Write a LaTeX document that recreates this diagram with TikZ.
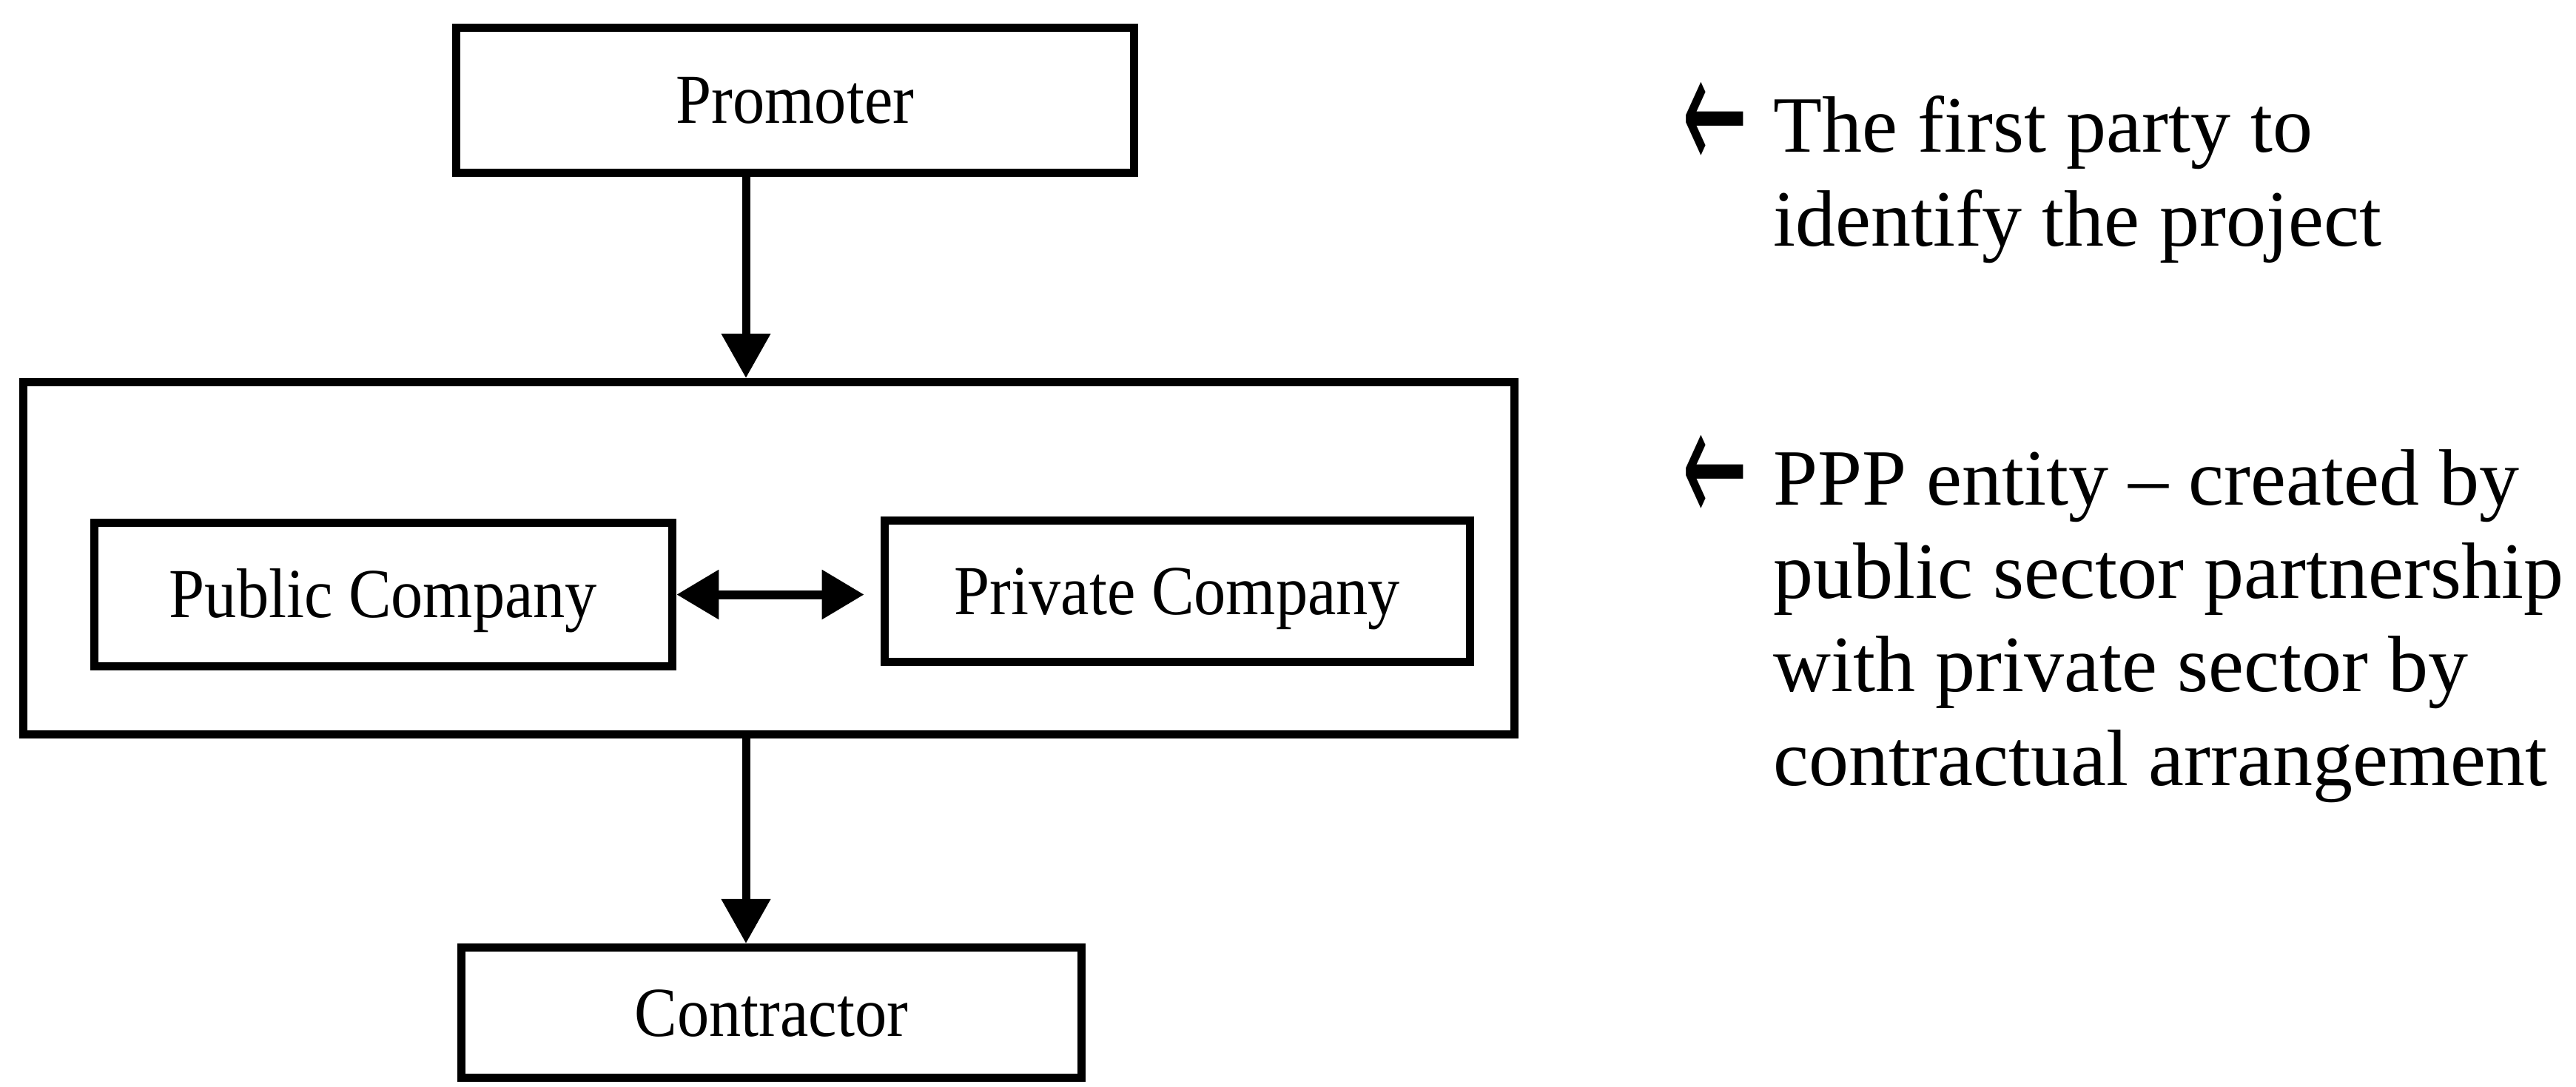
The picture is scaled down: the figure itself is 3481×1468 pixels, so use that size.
\documentclass[tikz,border=0pt]{standalone}
\usepackage{fontspec}
\setmainfont{Liberation Serif}
\newfontfamily\boxfont{Liberation Serif}[FakeStretch=0.91]
\newfontfamily\arrowfont{DejaVu Sans}
\usetikzlibrary{arrows.meta}

% left-pointing marker set in front of each side note
\newcommand{\notemark}{\llap{\makebox[1.23cm][l]{\raisebox{-0.28cm}{\scalebox{0.5}[1.1]{\fontsize{60pt}{60pt}\arrowfont ←}}}}}

\begin{document}
\begin{tikzpicture}[x=0.01cm, y=-0.01cm,
  box/.style={draw, line width=0.11cm, inner sep=0pt,
    font=\boxfont\fontsize{27pt}{32pt}\selectfont,
    text height=17.9pt, text depth=0pt},
  flow/.style={line width=0.11cm, -{Triangle[length=0.6cm, width=0.64cm]}},
  link/.style={line width=0.12cm,
    {Triangle[length=0.57cm, width=0.64cm]}-{Triangle[length=0.57cm, width=0.64cm]},
    shorten >=0.22cm},
  note/.style={font=\fontsize{30.7pt}{35.85pt}\selectfont, align=left,
    inner sep=0pt, anchor=base west}]

  \useasboundingbox (0,0) rectangle (3481,1468);

  % boxes
  \node[box, minimum width=9.16cm, minimum height=1.96cm] (promoter) at (1074.5,135.5) {Promoter};
  \node[box, minimum width=20.13cm, minimum height=4.76cm] (ppp) at (1039,754.5) {};
  \node[box, minimum width=7.81cm, minimum height=1.94cm] (public) at (518,803.5) {Public Company};
  \node[box, minimum width=7.91cm, minimum height=1.91cm] (private) at (1591,799) {Private Company};
  \node[box, minimum width=8.38cm, minimum height=1.76cm] (contractor) at (1042.5,1368.5) {Contractor};

  % vertical flow line
  \coordinate (spine) at (1008,0);
  \draw[flow] (promoter.south -| spine) -- (ppp.north -| spine);
  \draw[flow] (ppp.south -| spine) -- (contractor.north -| spine);
  \draw[link] (public.east) -- (public.east -| private.west);

  % side notes (anchored at the baseline of their last line)
  \node[note] (note1) at (2396,332)
    {\notemark The first party to\\identify the project};
  \node[note] (note2) at (2396,1061)
    {\notemark PPP entity – created by\\public sector partnership\\with private sector by\\contractual arrangement};
\end{tikzpicture}
\end{document}
